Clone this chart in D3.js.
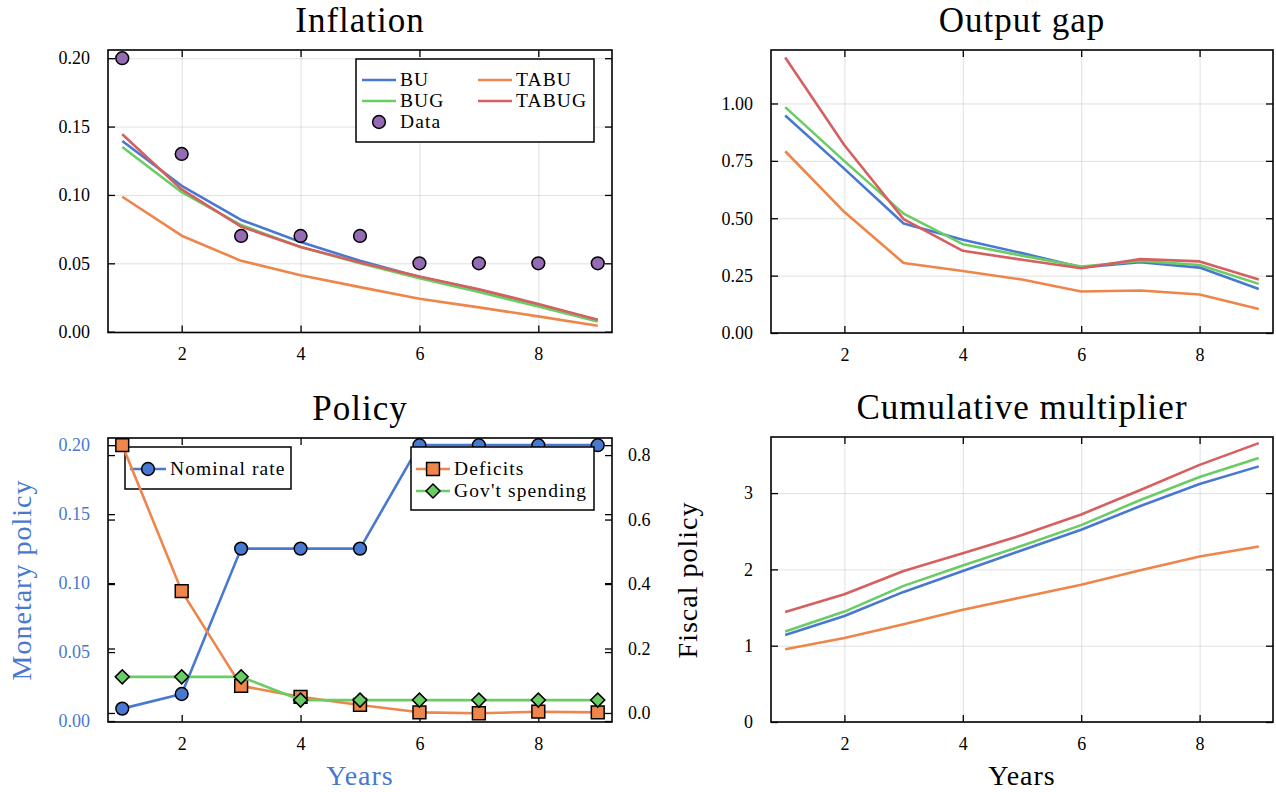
<!DOCTYPE html>
<html>
<head>
<meta charset="utf-8">
<script src="https://cdn.jsdelivr.net/npm/d3@7"></script>
<style>
  body { margin: 0; background: #fff; }
  svg { display: block; }
</style>
</head>
<body>
<svg id="chart" width="1276" height="792"></svg>
<script>
'use strict';

// ---- data ----
var years = [ 1, 2, 3, 4, 5, 6, 7, 8, 9 ];
var xTicks = [ 2, 4, 6, 8 ];

var inflationBU    = [ 0.1395, 0.1067, 0.0817, 0.0656, 0.0518, 0.0399, 0.0306, 0.0197, 0.0083 ];
var inflationTABU  = [ 0.0987, 0.0702, 0.0518, 0.0413, 0.0326, 0.0241, 0.0178, 0.0112, 0.0044 ];
var inflationBUG   = [ 0.1350, 0.1020, 0.0780, 0.0620, 0.0500, 0.0390, 0.0290, 0.0185, 0.0075 ];
var inflationTABUG = [ 0.1444, 0.1040, 0.0768, 0.0620, 0.0506, 0.0404, 0.0311, 0.0202, 0.0087 ];
var inflationData  = [ 0.20, 0.13, 0.07, 0.07, 0.07, 0.05, 0.05, 0.05, 0.05 ];

var gapBU    = [ 0.948, 0.715, 0.477, 0.406, 0.348, 0.286, 0.308, 0.285, 0.192 ];
var gapTABU  = [ 0.792, 0.527, 0.305, 0.270, 0.233, 0.181, 0.185, 0.168, 0.105 ];
var gapBUG   = [ 0.984, 0.749, 0.520, 0.387, 0.337, 0.290, 0.314, 0.296, 0.214 ];
var gapTABUG = [ 1.200, 0.818, 0.496, 0.358, 0.319, 0.282, 0.322, 0.312, 0.233 ];

var nominalRate = [ 0.009, 0.0196, 0.125, 0.125, 0.125, 0.2, 0.2, 0.2, 0.2 ];
var deficits    = [ 0.831, 0.378, 0.084, 0.050, 0.025, 0.002, -0.001, 0.004, 0.002 ];
var govSpending = [ 0.112, 0.112, 0.112, 0.040, 0.040, 0.040, 0.040, 0.040, 0.040 ];

var multBU    = [ 1.141, 1.390, 1.705, 1.980, 2.250, 2.520, 2.830, 3.120, 3.350 ];
var multTABU  = [ 0.953, 1.100, 1.280, 1.470, 1.635, 1.800, 1.990, 2.170, 2.300 ];
var multBUG   = [ 1.185, 1.447, 1.784, 2.050, 2.310, 2.580, 2.910, 3.210, 3.460 ];
var multTABUG = [ 1.443, 1.675, 1.980, 2.210, 2.450, 2.720, 3.040, 3.370, 3.655 ];

var inflationTicks = [ 0, 0.05, 0.10, 0.15, 0.20 ];
var gapTicks = [ 0, 0.25, 0.50, 0.75, 1.00 ];
var monetaryTicks = [ 0, 0.05, 0.10, 0.15, 0.20 ];
var fiscalTicks = [ 0, 0.2, 0.4, 0.6, 0.8 ];
var multTicks = [ 0, 1, 2, 3 ];

// ---- style ----
var COLORS = { blue: '#4878d0', orange: '#ee854a', green: '#6acc64', red: '#d65f5f', purple: '#956cb4' };
var FONT = "'Liberation Serif', 'Times New Roman', serif";
var TICK = 7;
var xDomain = [ 0.76, 9.24 ];

var svg = d3.select( '#chart' ).style( 'font-family', FONT );

function styleAxis( sel, color ){
    sel.select( '.domain' ).remove();
    sel.selectAll( 'line' ).attr( 'stroke', '#000' ).attr( 'stroke-width', 1.3 );
    sel.selectAll( 'text' )
        .attr( 'fill', color || '#000' )
        .style( 'font-family', FONT )
        .style( 'font-size', '18px' );
    sel.attr( 'font-family', null ).attr( 'font-size', null );
}

function makePanel( box ){
    var g = svg.append( 'g' );
    var x = d3.scaleLinear().domain( xDomain ).range([ box.left, box.right ]);
    var y = d3.scaleLinear().domain( box.yDomain ).range([ box.bottom, box.top ]);
    var w = box.right - box.left,
        h = box.bottom - box.top;

    if ( box.grid ){
        g.append( 'g' ).attr( 'transform', 'translate(0,' + box.bottom + ')' )
            .call( d3.axisBottom( x ).tickValues( xTicks ).tickSize( -h ).tickFormat( '' ) )
            .call( function( s ){
                s.select( '.domain' ).remove();
                s.selectAll( 'line' ).attr( 'stroke', '#000' ).attr( 'stroke-opacity', 0.12 );
            });
        g.append( 'g' ).attr( 'transform', 'translate(' + box.left + ',0)' )
            .call( d3.axisLeft( y ).tickValues( box.yTicks ).tickSize( -w ).tickFormat( '' ) )
            .call( function( s ){
                s.select( '.domain' ).remove();
                s.selectAll( 'line' ).attr( 'stroke', '#000' ).attr( 'stroke-opacity', 0.12 );
            });
    }

    g.append( 'rect' )
        .attr( 'x', box.left ).attr( 'y', box.top )
        .attr( 'width', w ).attr( 'height', h )
        .attr( 'fill', 'none' ).attr( 'stroke', '#000' ).attr( 'stroke-width', 1.6 );

    // x ticks, bottom with labels, top mirrored
    g.append( 'g' ).attr( 'transform', 'translate(0,' + box.bottom + ')' )
        .call( d3.axisBottom( x ).tickValues( xTicks ).tickSize( -TICK ).tickPadding( 15 ).tickFormat( d3.format( 'd' ) ) )
        .call( styleAxis );
    g.append( 'g' ).attr( 'transform', 'translate(0,' + box.top + ')' )
        .call( d3.axisTop( x ).tickValues( xTicks ).tickSize( -TICK ).tickFormat( '' ) )
        .call( styleAxis );

    // y ticks, left with labels, right mirrored
    g.append( 'g' ).attr( 'transform', 'translate(' + box.left + ',0)' )
        .call( d3.axisLeft( y ).tickValues( box.yTicks ).tickSize( -TICK ).tickPadding( 18 ).tickFormat( d3.format( box.yFormat ) ) )
        .call( function( s ){ styleAxis( s, box.yColor ); } );
    g.append( 'g' ).attr( 'transform', 'translate(' + box.right + ',0)' )
        .call( d3.axisRight( y ).tickValues( box.yTicks ).tickSize( -TICK ).tickFormat( '' ) )
        .call( styleAxis );

    g.append( 'text' )
        .attr( 'x', ( box.left + box.right ) / 2 )
        .attr( 'y', box.top - 18 )
        .attr( 'text-anchor', 'middle' )
        .style( 'font-size', '35px' )
        .style( 'letter-spacing', '1px' )
        .text( box.title );

    return { g: g, x: x, y: y };
}

function drawLine( p, y, values, color ){
    var line = d3.line()
        .x( function( d, i ){ return p.x( years[i] ); } )
        .y( function( d ){ return y( d ); } );
    p.g.append( 'path' )
        .datum( values )
        .attr( 'd', line )
        .attr( 'fill', 'none' )
        .attr( 'stroke', color )
        .attr( 'stroke-width', 2.6 )
        .attr( 'stroke-linejoin', 'round' );
}

function markerPath( type ){
    if ( type === 'square' ){ return d3.symbol( d3.symbolSquare, 165 )(); }
    if ( type === 'diamond' ){ return d3.symbol( d3.symbolSquare, 98 )(); }
    return d3.symbol( d3.symbolCircle, 128 )();
}

function drawMarkers( p, y, values, color, type ){
    p.g.append( 'g' ).selectAll( 'path' )
        .data( values )
        .join( 'path' )
        .attr( 'd', markerPath( type ) )
        .attr( 'transform', function( d, i ){
            return 'translate(' + p.x( years[i] ) + ',' + y( d ) + ')' + ( type === 'diamond' ? ' rotate(45)' : '' );
        })
        .attr( 'fill', color )
        .attr( 'stroke', '#000' )
        .attr( 'stroke-width', 1.5 );
}

function legendBox( g, x0, y0, x1, y1 ){
    g.append( 'rect' )
        .attr( 'x', x0 ).attr( 'y', y0 )
        .attr( 'width', x1 - x0 ).attr( 'height', y1 - y0 )
        .attr( 'fill', '#fff' ).attr( 'stroke', '#000' ).attr( 'stroke-width', 1.5 );
}

function legendEntry( g, lx, ly, label, color, marker, lineLen ){
    var len = lineLen || 34;
    if ( color && marker !== 'only' ){
        g.append( 'line' )
            .attr( 'x1', lx ).attr( 'x2', lx + len )
            .attr( 'y1', ly ).attr( 'y2', ly )
            .attr( 'stroke', color ).attr( 'stroke-width', 2.6 );
    }
    if ( marker ){
        g.append( 'path' )
            .attr( 'd', markerPath( marker === 'only' ? 'big' : marker ) )
            .attr( 'transform', 'translate(' + ( lx + len / 2 ) + ',' + ly + ')' + ( marker === 'diamond' ? ' rotate(45)' : '' ) )
            .attr( 'fill', color ).attr( 'stroke', '#000' ).attr( 'stroke-width', 1.5 );
    }
    g.append( 'text' )
        .attr( 'x', lx + len + 4 ).attr( 'y', ly )
        .attr( 'dy', '0.33em' )
        .style( 'font-size', '19.5px' )
        .style( 'letter-spacing', '1.1px' )
        .text( label );
}

function axisTitle( g, x, y, rotate, label, color ){
    g.append( 'text' )
        .attr( 'transform', 'translate(' + x + ',' + y + ')' + ( rotate ? ' rotate(-90)' : '' ) )
        .attr( 'text-anchor', 'middle' )
        .attr( 'fill', color || '#000' )
        .style( 'font-size', '28px' )
        .style( 'letter-spacing', '1px' )
        .text( label );
}

// ---- Inflation ----
var p1 = makePanel({ left: 108, right: 612, top: 50, bottom: 332.5, yDomain: [ -0.0006, 0.206 ],
    yTicks: inflationTicks, yFormat: '.2f', grid: true, title: 'Inflation' });
drawLine( p1, p1.y, inflationBU, COLORS.blue );
drawLine( p1, p1.y, inflationTABU, COLORS.orange );
drawLine( p1, p1.y, inflationBUG, COLORS.green );
drawLine( p1, p1.y, inflationTABUG, COLORS.red );
drawMarkers( p1, p1.y, inflationData, COLORS.purple, 'circle' );
legendBox( p1.g, 356, 59, 594, 142 );
legendEntry( p1.g, 362, 80, 'BU', COLORS.blue );
legendEntry( p1.g, 478, 80, 'TABU', COLORS.orange );
legendEntry( p1.g, 362, 101, 'BUG', COLORS.green );
legendEntry( p1.g, 478, 101, 'TABUG', COLORS.red );
legendEntry( p1.g, 362, 122, 'Data', COLORS.purple, 'only' );

// ---- Output gap ----
var p2 = makePanel({ left: 771, right: 1273, top: 50, bottom: 333, yDomain: [ 0, 1.233 ],
    yTicks: gapTicks, yFormat: '.2f', grid: true, title: 'Output gap' });
drawLine( p2, p2.y, gapBU, COLORS.blue );
drawLine( p2, p2.y, gapTABU, COLORS.orange );
drawLine( p2, p2.y, gapBUG, COLORS.green );
drawLine( p2, p2.y, gapTABUG, COLORS.red );

// ---- Policy (twin axes) ----
var p3 = makePanel({ left: 108, right: 612, top: 438, bottom: 722, yDomain: [ -0.0007, 0.2052 ],
    yTicks: monetaryTicks, yFormat: '.2f', yColor: COLORS.blue, grid: false, title: 'Policy' });
var yFiscal = d3.scaleLinear().domain([ -0.028, 0.853 ]).range([ 722, 438 ]);
p3.g.append( 'g' ).attr( 'transform', 'translate(612,0)' )
    .call( d3.axisRight( yFiscal ).tickValues( fiscalTicks ).tickSize( -TICK ).tickPadding( 16 ).tickFormat( d3.format( '.1f' ) ) )
    .call( styleAxis );
p3.g.append( 'g' ).attr( 'transform', 'translate(108,0)' )
    .call( d3.axisLeft( yFiscal ).tickValues( fiscalTicks ).tickSize( -TICK ).tickFormat( '' ) )
    .call( styleAxis );

drawLine( p3, p3.y, nominalRate, COLORS.blue );
drawMarkers( p3, p3.y, nominalRate, COLORS.blue, 'circle' );
legendBox( p3.g, 125, 447, 291, 489 );
legendEntry( p3.g, 130, 469, 'Nominal rate', COLORS.blue, 'circle', 36 );

drawLine( p3, yFiscal, deficits, COLORS.orange );
drawMarkers( p3, yFiscal, deficits, COLORS.orange, 'square' );
drawLine( p3, yFiscal, govSpending, COLORS.green );
drawMarkers( p3, yFiscal, govSpending, COLORS.green, 'diamond' );
legendBox( p3.g, 411, 447, 594, 510 );
legendEntry( p3.g, 416, 469, 'Deficits', COLORS.orange, 'square', 34 );
legendEntry( p3.g, 416, 491, 'Gov\'t spending', COLORS.green, 'diamond', 34 );

axisTitle( p3.g, 31, 580, true, 'Monetary policy', COLORS.blue );
axisTitle( p3.g, 360, 785, false, 'Years', COLORS.blue );

// ---- Cumulative multiplier ----
var p4 = makePanel({ left: 771, right: 1273, top: 437, bottom: 722, yDomain: [ 0, 3.735 ],
    yTicks: multTicks, yFormat: 'd', grid: true, title: 'Cumulative multiplier' });
drawLine( p4, p4.y, multBU, COLORS.blue );
drawLine( p4, p4.y, multTABU, COLORS.orange );
drawLine( p4, p4.y, multBUG, COLORS.green );
drawLine( p4, p4.y, multTABUG, COLORS.red );

axisTitle( p4.g, 697, 580, true, 'Fiscal policy' );
axisTitle( p4.g, 1022, 785, false, 'Years' );
</script>
</body>
</html>
